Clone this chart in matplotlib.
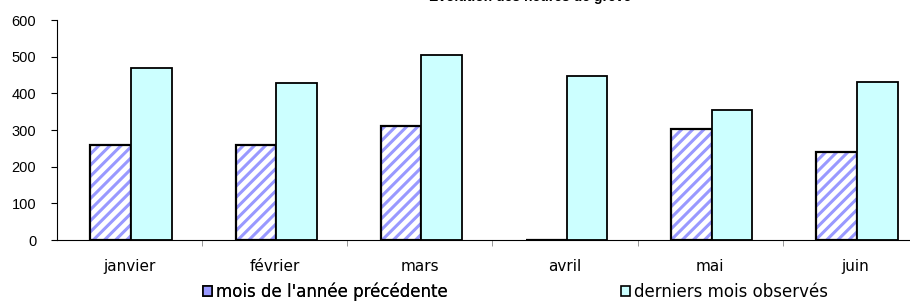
import numpy as np
import matplotlib.pyplot as plt
from matplotlib.patches import Patch

plt.rcParams['font.family'] = ['Liberation Sans', 'DejaVu Sans']
plt.rcParams['hatch.linewidth'] = 2.2

# données
mois = ['janvier', 'février', 'mars', 'avril', 'mai', 'juin']
annee_prec = [260, 258, 310, 0, 302, 240]
derniers = [470, 428, 505, 447, 355, 430]
lab_prec = "mois de l'année précédente"
lab_der = "derniers mois observés"

fig = plt.figure(figsize=(9.1, 3.06), dpi=100)
ax = fig.add_axes([57/910, 66/306, 871/910, 220/306])

x = np.arange(len(mois))
w = 0.28
# barres hachurées : hachures bleues puis contour noir par-dessus
ax.bar(x - w/2 + 0.01, annee_prec, w, color='white', edgecolor='#9999ff',
       hatch='///', linewidth=0)
ax.bar(x - w/2 + 0.01, annee_prec, w, color='none', edgecolor='black', linewidth=1.6)
ax.bar(x + w/2 + 0.01, derniers, w, color='#ccffff', edgecolor='black', linewidth=1.3)

ax.set_xlim(-0.5, len(mois) - 0.5)
ax.set_ylim(0, 600)
ax.set_yticks(range(0, 601, 100))
ax.set_xticks(x)
ax.set_xticklabels(mois, fontsize=11, family='DejaVu Sans')
ax.set_xticks(x[:-1] + 0.5, minor=True)
ax.tick_params(axis='x', which='major', length=0, pad=14)
ax.tick_params(axis='x', which='minor', length=4, color='#888888')
ax.tick_params(axis='y', labelsize=10.5, length=4, pad=11)
ax.spines['top'].set_visible(False)
ax.spines['right'].set_visible(False)

# titre (coupé en haut de l'image, comme sur l'original)
fig.text(530/910, 1 - 1/306, 'Évolution des heures de grève', ha='center',
         va='baseline', fontsize=10, fontweight='bold')

h1 = Patch(facecolor='#9999ff', edgecolor='black', linewidth=1.2)
h2 = Patch(facecolor='#ccffff', edgecolor='black', linewidth=1.2)
kw = dict(frameon=False, prop={'family': 'DejaVu Sans', 'size': 12},
          handlelength=0.55, handleheight=0.55, handletextpad=0.25,
          borderpad=0, borderaxespad=0)
leg1 = fig.legend([h1], [lab_prec], loc='center left',
                  bbox_to_anchor=(203/910, 14/306), **kw)
fig.add_artist(leg1)
fig.legend([h2], [lab_der], loc='center left',
           bbox_to_anchor=(621/910, 14/306), **kw)

fig.savefig('out.png', dpi=100)
